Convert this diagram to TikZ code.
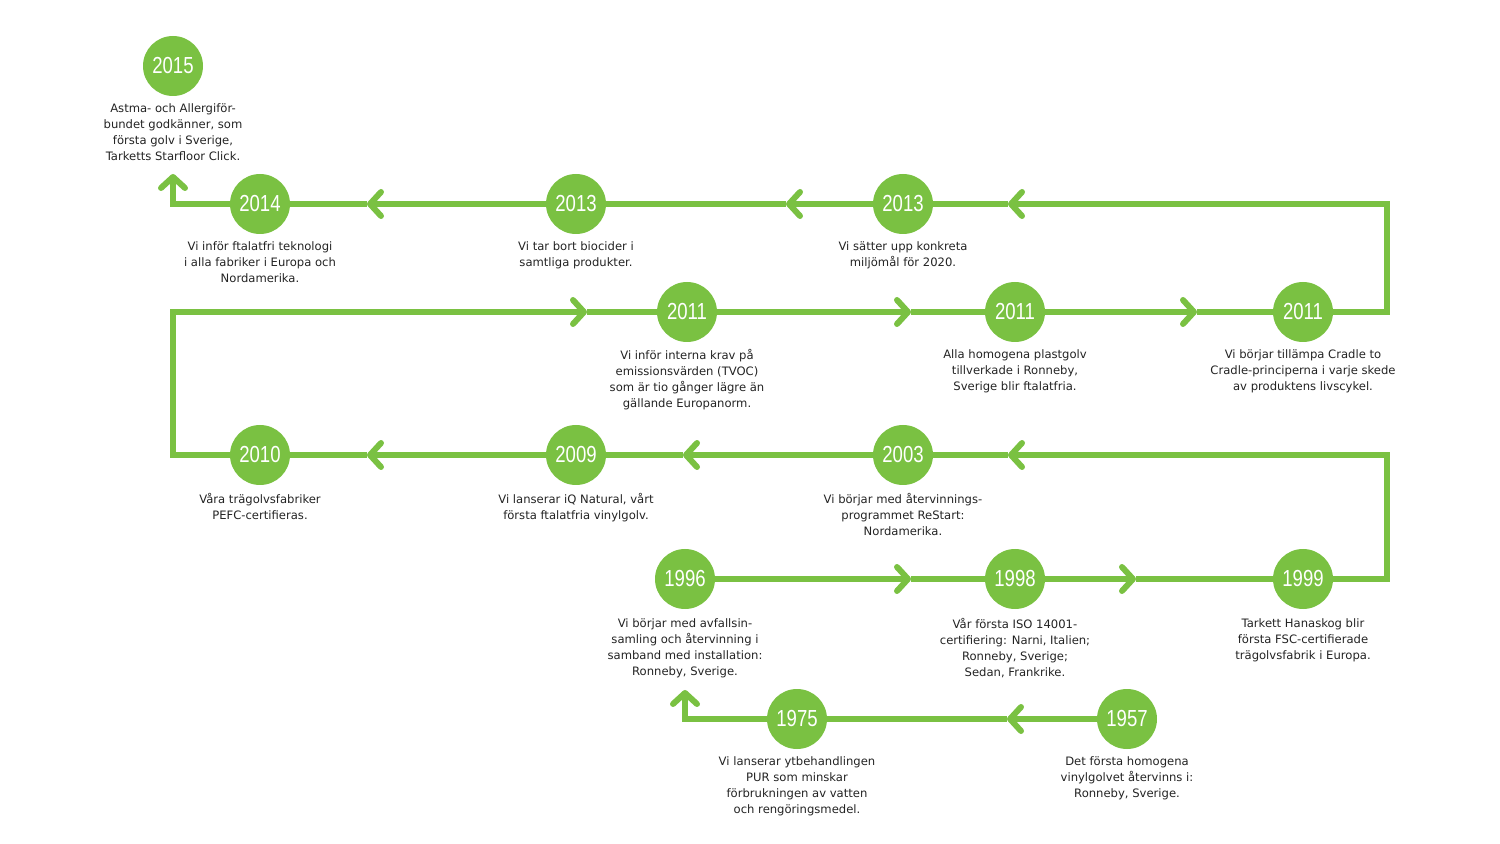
\documentclass[tikz,border=0pt]{standalone}
\usepackage{fontspec}
\setmainfont{DejaVu Sans}
\newfontfamily\yearfont[FakeStretch=0.8]{Liberation Sans}
\usetikzlibrary{arrows.meta,backgrounds}
\definecolor{tgreen}{RGB}{122,193,66}
\definecolor{ttext}{RGB}{35,35,35}
\begin{document}
\begin{tikzpicture}[x=0.5pt,y=-0.5pt,
  yr/.style={circle, fill=tgreen, minimum size=30pt, inner sep=0pt, text=white,
    font=\yearfont\fontsize{11.6}{13}\selectfont},
  desc/.style={anchor=north, align=center, inner sep=0pt, text=ttext,
    font=\fontsize{5.8}{8}\selectfont},
  tl/.style={draw=tgreen, line width=3pt, line join=miter},
  chev/.style={-{Straight Barb[length=5.5pt,width=12pt,round]}},
]
\useasboundingbox (0,0) rectangle (1500,844);

% year circles
\node[yr] (y2015) at (173,66) {2015};
\node[yr] (y2014) at (260,204) {2014};
\node[yr] (y2013a) at (576,204) {2013};
\node[yr] (y2013b) at (903,204) {2013};
\node[yr] (y2011a) at (687,312) {2011};
\node[yr] (y2011b) at (1015,312) {2011};
\node[yr] (y2011c) at (1303,312) {2011};
\node[yr] (y2010) at (260,455) {2010};
\node[yr] (y2009) at (576,455) {2009};
\node[yr] (y2003) at (903,455) {2003};
\node[yr] (y1996) at (685,579) {1996};
\node[yr] (y1998) at (1015,579) {1998};
\node[yr] (y1999) at (1303,579) {1999};
\node[yr] (y1975) at (797,719) {1975};
\node[yr] (y1957) at (1127,719) {1957};

% descriptions
\node[desc] (d2015) at (173,103) {Astma- och Allergiför-\\bundet godkänner, som\\första golv i Sverige,\\Tarketts Starfloor Click.};
\node[desc] (d2014) at (260,241) {Vi inför ftalatfri teknologi\\i alla fabriker i Europa och\\Nordamerika.};
\node[desc] (d2013a) at (576,241) {Vi tar bort biocider i\\samtliga produkter.};
\node[desc] (d2013b) at (903,241) {Vi sätter upp konkreta\\miljömål för 2020.};
\node[desc] (d2011a) at (687,349) {Vi inför interna krav på\\emissionsvärden (TVOC)\\som är tio gånger lägre än\\gällande Europanorm.};
\node[desc] (d2011b) at (1015,349) {Alla homogena plastgolv\\tillverkade i Ronneby,\\Sverige blir ftalatfria.};
\node[desc] (d2011c) at (1303,349) {Vi börjar tillämpa Cradle to\\Cradle-principerna i varje skede\\av produktens livscykel.};
\node[desc] (d2010) at (260,493) {Våra trägolvsfabriker\\PEFC-certifieras.};
\node[desc] (d2009) at (576,493) {Vi lanserar iQ Natural, vårt\\första ftalatfria vinylgolv.};
\node[desc] (d2003) at (903,493) {Vi börjar med återvinnings-\\programmet ReStart:\\Nordamerika.};
\node[desc] (d1996) at (685,618) {Vi börjar med avfallsin-\\samling och återvinning i\\samband med installation:\\Ronneby, Sverige.};
\node[desc] (d1998) at (1015,618) {Vår första ISO 14001-\\certifiering: Narni, Italien;\\Ronneby, Sverige;\\Sedan, Frankrike.};
\node[desc] (d1999) at (1303,618) {Tarkett Hanaskog blir\\första FSC-certifierade\\trägolvsfabrik i Europa.};
\node[desc] (d1975) at (797,756) {Vi lanserar ytbehandlingen\\PUR som minskar\\förbrukningen av vatten\\och rengöringsmedel.};
\node[desc] (d1957) at (1127,756) {Det första homogena\\vinylgolvet återvinns i:\\Ronneby, Sverige.};

% corners and arrow tips
\coordinate (a61) at (1007,719);
\coordinate (c60) at (685,719);
\coordinate (a60) at (685,690);
\coordinate (a51) at (911,579);
\coordinate (a52) at (1136,579);
\coordinate (c51) at (1387,579);
\coordinate (c41) at (1387,455);
\coordinate (a41) at (1008,455);
\coordinate (a42) at (683,455);
\coordinate (a43) at (367,455);
\coordinate (c42) at (173,455);
\coordinate (c31) at (173,312);
\coordinate (a31) at (587,312);
\coordinate (a32) at (911,312);
\coordinate (a33) at (1197,312);
\coordinate (c32) at (1387,312);
\coordinate (c21) at (1387,204);
\coordinate (a21) at (1008,204);
\coordinate (a22) at (786,204);
\coordinate (a23) at (367,204);
\coordinate (c22) at (173,204);
\coordinate (a20) at (173,174);

\begin{scope}[on background layer]
\draw[tl,chev] (y1957.center) -- (a61);
\draw[tl,chev] (a61) -- (y1975.center) -- (c60) -- (a60);
\draw[tl,chev] (y1996.center) -- (a51);
\draw[tl] (a51) -- (y1998.center);
\draw[tl,chev] (y1998.center) -- (a52);
\draw[tl,chev] (a52) -- (y1999.center) -- (c51) -- (c41) -- (a41);
\draw[tl] (a41) -- (y2003.center);
\draw[tl,chev] (y2003.center) -- (a42);
\draw[tl] (a42) -- (y2009.center);
\draw[tl,chev] (y2009.center) -- (a43);
\draw[tl,chev] (a43) -- (y2010.center) -- (c42) -- (c31) -- (a31);
\draw[tl] (a31) -- (y2011a.center);
\draw[tl,chev] (y2011a.center) -- (a32);
\draw[tl] (a32) -- (y2011b.center);
\draw[tl,chev] (y2011b.center) -- (a33);
\draw[tl,chev] (a33) -- (y2011c.center) -- (c32) -- (c21) -- (a21);
\draw[tl] (a21) -- (y2013b.center);
\draw[tl,chev] (y2013b.center) -- (a22);
\draw[tl] (a22) -- (y2013a.center);
\draw[tl,chev] (y2013a.center) -- (a23);
\draw[tl,chev] (a23) -- (y2014.center) -- (c22) -- (a20);
\end{scope}
\end{tikzpicture}
\end{document}
